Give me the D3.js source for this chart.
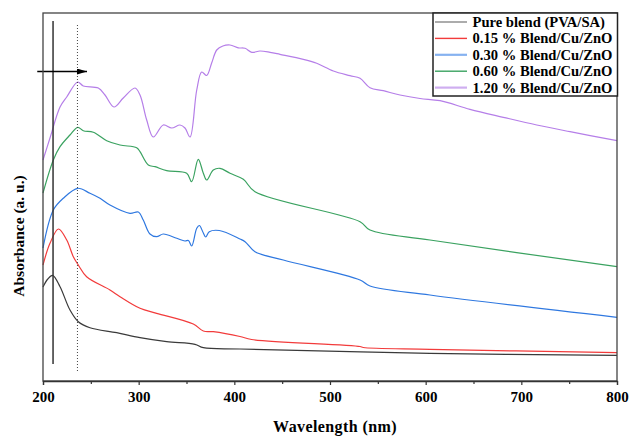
<!DOCTYPE html>
<html>
<head>
<meta charset="utf-8">
<script src="https://cdn.jsdelivr.net/npm/d3@7/dist/d3.min.js"></script>
<style>
  body { margin: 0; background: #fff; }
  svg { display: block; font-family: "Liberation Serif", "Times New Roman", serif; font-weight: bold; }
</style>
</head>
<body>
<svg id="chart" width="629" height="436"></svg>
<script>
// spectra: [wavelength nm, absorbance a.u.]
const pureBlend = [
  [200, 0.94], [205, 1.02], [210, 1.057], [217.8, 0.943], [228.2, 0.71], [236.9, 0.593],
  [249.1, 0.533], [277, 0.483], [301.4, 0.433], [329.3, 0.393], [358.9, 0.367],
  [367.6, 0.333], [405.9, 0.32], [604.5, 0.277], [800, 0.257]
];
const blend015 = [
  [200, 1.16], [207.3, 1.377], [216.1, 1.52], [224.8, 1.41], [231.7, 1.243], [236.9, 1.16],
  [245.6, 1.043], [270, 0.91], [280.5, 0.843], [301.4, 0.727], [318.8, 0.677],
  [357.1, 0.57], [367.6, 0.5], [378, 0.493], [405.9, 0.445], [418, 0.415],
  [531.4, 0.345], [534.8, 0.335], [604.5, 0.317], [800, 0.283]
];
const blend030 = [
  [200, 1.33], [210.8, 1.71], [221.2, 1.827], [236.3, 1.927], [249.1, 1.877], [259.6, 1.827],
  [270, 1.76], [290.9, 1.677], [299.6, 1.69], [304.8, 1.61], [311.8, 1.47], [318.8, 1.443],
  [325.7, 1.47], [339.8, 1.427], [348.4, 1.4], [352, 1.405], [355.4, 1.35], [360.7, 1.527],
  [363.4, 1.555], [367.6, 1.48], [370.1, 1.44], [373.8, 1.493], [384.3, 1.505],
  [405.9, 1.42], [411.2, 1.393], [421.6, 1.293], [451.2, 1.21], [531.4, 1.01],
  [541.8, 0.95], [604.5, 0.86], [800, 0.637]
];
const blend060 = [
  [200, 1.88], [210.8, 2.21], [217.8, 2.343], [228.2, 2.46], [236.3, 2.537], [242.1, 2.503],
  [252.6, 2.487], [266.6, 2.403], [280.5, 2.36], [297.9, 2.333], [301.4, 2.293],
  [310.1, 2.16], [317.1, 2.143], [329.3, 2.103], [350.2, 2.077], [355.4, 1.993],
  [362.3, 2.217], [367.6, 2.077], [371.1, 2.01], [378, 2.11], [385, 2.127], [395.5, 2.077],
  [409.4, 2.017], [421.6, 1.893], [531.4, 1.593], [541.8, 1.51], [604.5, 1.41], [800, 1.143]
];
const blend120 = [
  [200, 2.21], [207.3, 2.43], [217.8, 2.74], [224.8, 2.84], [236.3, 2.99], [242.1, 2.95],
  [257.8, 2.93], [264.8, 2.86], [274.2, 2.74], [283.9, 2.83], [296.2, 2.93], [301.4, 2.86],
  [308.4, 2.61], [315.3, 2.44], [325.7, 2.56], [334.5, 2.53], [343.2, 2.56], [348.4, 2.53],
  [353.7, 2.44], [360.7, 2.91], [365.9, 3.09], [371.1, 3.055], [376.3, 3.18], [381.6, 3.31],
  [388, 3.35], [395.5, 3.36], [404.2, 3.332], [411.2, 3.327], [418.2, 3.287], [426.8, 3.3],
  [437.3, 3.287], [447.7, 3.267], [472.1, 3.217], [486.1, 3.177], [503.5, 3.1],
  [520.9, 3.053], [531.4, 3.027], [541.8, 2.933], [555.7, 2.903], [573.2, 2.86],
  [594.1, 2.825], [615, 2.803], [646.3, 2.717], [681.2, 2.637], [716.1, 2.56],
  [750.9, 2.493], [800, 2.403]
];
const seriesNames = [
  'Pure blend (PVA/SA)', '0.15 % Blend/Cu/ZnO', '0.30 % Blend/Cu/ZnO',
  '0.60 % Blend/Cu/ZnO', '1.20 % Blend/Cu/ZnO'
];
const seriesData = [pureBlend, blend015, blend030, blend060, blend120];
const seriesColors = ['#3a3a3a', '#f23b3b', '#2f78e0', '#3aa260', '#b57ee8'];
const legendColors = ['#888888', '#f23b3b', '#86b2f0', '#3aa260', '#cfaef0'];
const majorTicks = [200, 300, 400, 500, 600, 700, 800];
const minorTicks = [250, 350, 450, 550, 650, 750];
// marker lines and arrow
const solidMark = 210.5, dottedMark = 236, arrowFrom = 194, arrowTo = 246;

const svg = d3.select('#chart');
const width = 629, height = 436;
const margin = { top: 13, right: 12, bottom: 55, left: 43 };

const x = d3.scaleLinear()
  .domain([200, 800])
  .range([margin.left, width - margin.right]);
const y = d3.scaleLinear()
  .domain([0, 3.68])
  .range([height - margin.bottom, margin.top]);

const line = d3.line()
  .x(d => x(d[0]))
  .y(d => y(d[1]))
  .curve(d3.curveCatmullRom.alpha(0.5));

svg.append('g')
  .selectAll('path')
  .data(seriesData)
  .join('path')
  .attr('fill', 'none')
  .attr('stroke', (d, i) => seriesColors[i])
  .attr('stroke-width', 1.2)
  .attr('d', line);

// marker lines
svg.append('line')
  .attr('x1', x(solidMark)).attr('x2', x(solidMark))
  .attr('y1', y(3.6)).attr('y2', y(0.17))
  .attr('stroke', '#333').attr('stroke-width', 1.5);
svg.append('line')
  .attr('x1', x(dottedMark)).attr('x2', x(dottedMark))
  .attr('y1', y(3.56)).attr('y2', y(0.09))
  .attr('stroke', '#444').attr('stroke-width', 1)
  .attr('stroke-dasharray', '1,2');

svg.append('defs').append('marker')
  .attr('id', 'head')
  .attr('viewBox', '0 0 10 6')
  .attr('refX', 10).attr('refY', 3)
  .attr('markerWidth', 10).attr('markerHeight', 6)
  .attr('markerUnits', 'userSpaceOnUse')
  .attr('orient', 'auto')
  .append('path').attr('d', 'M0,0 L10,3 L0,6 Z').attr('fill', '#000');
svg.append('line')
  .attr('x1', x(arrowFrom)).attr('x2', x(arrowTo))
  .attr('y1', y(3.095)).attr('y2', y(3.095))
  .attr('stroke', '#000').attr('stroke-width', 1.3)
  .attr('marker-end', 'url(#head)');

// frame
svg.append('rect')
  .attr('x', margin.left).attr('y', margin.top)
  .attr('width', width - margin.right - margin.left)
  .attr('height', height - margin.bottom - margin.top)
  .attr('fill', 'none').attr('stroke', '#444').attr('stroke-width', 1.3);

const xAxis = svg.append('g')
  .attr('transform', `translate(0,${height - margin.bottom})`)
  .call(d3.axisBottom(x).tickValues(majorTicks).tickSize(4).tickFormat(d3.format('d')));
xAxis.select('.domain').attr('stroke', '#333').attr('stroke-width', 1.3);
xAxis.selectAll('.tick line').attr('stroke', '#333').attr('stroke-width', 1.2);
xAxis.selectAll('.tick text')
  .attr('font-family', '"Liberation Serif", serif')
  .attr('font-weight', 'bold')
  .attr('font-size', 15)
  .attr('fill', '#000')
  .attr('dy', '0.95em');

svg.append('g')
  .attr('transform', `translate(0,${height - margin.bottom})`)
  .call(d3.axisBottom(x).tickValues(minorTicks).tickSize(3).tickFormat(''))
  .call(g => g.select('.domain').remove())
  .selectAll('.tick line').attr('stroke', '#333').attr('stroke-width', 1.2);

svg.append('text')
  .attr('x', (margin.left + width - margin.right) / 2 + 5)
  .attr('y', 432)
  .attr('text-anchor', 'middle')
  .attr('font-size', 16)
  .attr('letter-spacing', 0.4)
  .text('Wavelength (nm)');

svg.append('text')
  .attr('transform', `translate(24,${236}) rotate(-90)`)
  .attr('text-anchor', 'middle')
  .attr('font-size', 15.5)
  .text('Absorbance (a. u.)');

// legend
const legend = svg.append('g').attr('transform', `translate(433,${margin.top})`);
legend.append('rect')
  .attr('width', 184.5).attr('height', 83)
  .attr('fill', '#fff').attr('stroke', '#222').attr('stroke-width', 1.5);
const rows = legend.selectAll('g.row')
  .data(seriesNames)
  .join('g')
  .attr('class', 'row')
  .attr('transform', (d, i) => `translate(0,${9 + i * 16.4})`);
rows.append('line')
  .attr('x1', 2).attr('x2', 34)
  .attr('stroke', (d, i) => legendColors[i])
  .attr('stroke-width', (d, i) => (i === 2 || i === 4) ? 2.2 : 1.4);
rows.append('text')
  .attr('x', 39.5).attr('y', 5)
  .attr('font-size', 14.6)
  .text(d => d);
</script>
</body>
</html>
